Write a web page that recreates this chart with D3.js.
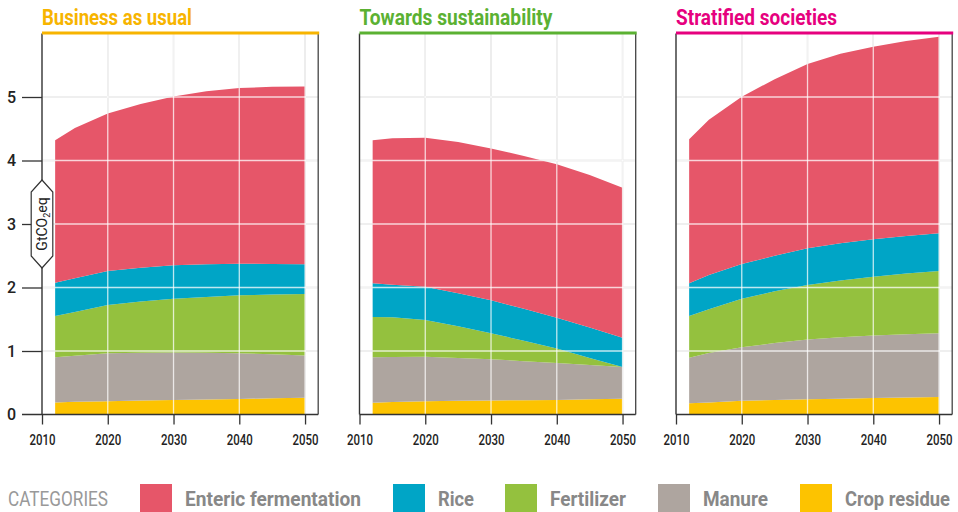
<!DOCTYPE html>
<html><head><meta charset="utf-8">
<script src="https://cdn.jsdelivr.net/npm/d3@7"></script>
<style>body{margin:0;background:#fff}svg{display:block}text{font-family:Roboto,"Noto Sans",sans-serif}</style>
</head><body>
<svg id="c" width="958" height="512"></svg>
<script>
const years = [2012, 2015, 2020, 2025, 2030, 2035, 2040, 2045, 2050];
const categories = ["Enteric fermentation", "Rice", "Fertilizer", "Manure", "Crop residue"];
const scenarios = ["Business as usual", "Towards sustainability", "Stratified societies"];
const xTicks = [2010, 2020, 2030, 2040, 2050];
const yTicks = [0, 1, 2, 3, 4, 5];

// values per category, GtCO2eq
const bauCrop    = [0.19, 0.20, 0.21, 0.22, 0.23, 0.238, 0.245, 0.255, 0.265];
const bauManure  = [0.71, 0.724, 0.755, 0.752, 0.745, 0.734, 0.72, 0.695, 0.665];
const bauFert    = [0.65, 0.691, 0.759, 0.808, 0.849, 0.88, 0.912, 0.94, 0.968];
const bauRice    = [0.526, 0.53, 0.536, 0.53, 0.526, 0.513, 0.498, 0.482, 0.47];
const bauEnteric = [2.244, 2.365, 2.48, 2.58, 2.656, 2.725, 2.765, 2.788, 2.797];

const tsCrop    = [0.186, 0.195, 0.21, 0.215, 0.22, 0.225, 0.23, 0.24, 0.25];
const tsManure  = [0.714, 0.71, 0.70, 0.675, 0.65, 0.615, 0.58, 0.54, 0.50];
const tsFert    = [0.635, 0.625, 0.58, 0.50, 0.41, 0.32, 0.23, 0.11, 0.0];
const tsRice    = [0.53, 0.515, 0.52, 0.52, 0.52, 0.505, 0.485, 0.48, 0.46];
const tsEnteric = [2.252, 2.305, 2.35, 2.38, 2.39, 2.405, 2.415, 2.40, 2.36];

const ssCrop    = [0.176, 0.19, 0.218, 0.23, 0.24, 0.25, 0.26, 0.268, 0.275];
const ssManure  = [0.719, 0.78, 0.842, 0.895, 0.94, 0.965, 0.986, 0.997, 1.005];
const ssFert    = [0.655, 0.686, 0.764, 0.815, 0.86, 0.895, 0.924, 0.955, 0.98];
const ssRice    = [0.515, 0.541, 0.546, 0.56, 0.577, 0.585, 0.59, 0.59, 0.593];
const ssEnteric = [2.268, 2.443, 2.635, 2.78, 2.903, 2.985, 3.03, 3.07, 3.097];

const catColors = ["#e65669", "#00a5c6", "#94c13e", "#aea59f", "#fdc300"];
const scenColors = ["#f7b400", "#5bb132", "#e6007e"];

const seriesByScenario = [
  [bauEnteric, bauRice, bauFert, bauManure, bauCrop],
  [tsEnteric, tsRice, tsFert, tsManure, tsCrop],
  [ssEnteric, ssRice, ssFert, ssManure, ssCrop]
];

const svg = d3.select("#c");
const lefts = [42, 359.5, 676];
const pw = 276.2;
const y = d3.scaleLinear().domain([0, 6]).range([414.5, 33.5]);
const stackKeys = categories.slice().reverse(); // bottom: Crop residue

scenarios.forEach((name, si) => {
  const L = lefts[si];
  const x = d3.scaleLinear().domain([2010, 2052]).range([L, L + pw]);
  const g = svg.append("g");
  const grid = g.append("g");
  grid.selectAll(".v").data(xTicks.slice(1)).join("line")
    .attr("x1", d => x(d)).attr("x2", d => x(d)).attr("y1", y(6)).attr("y2", y(0))
    .attr("stroke", "#c9c9c9").attr("stroke-width", 1.3);
  grid.selectAll(".h").data(yTicks.slice(1)).join("line")
    .attr("x1", L).attr("x2", L + pw).attr("y1", d => y(d)).attr("y2", d => y(d))
    .attr("stroke", "#cfcfcf").attr("stroke-width", 1.3);

  const rows = years.map((yr, i) => {
    const o = { year: yr };
    categories.forEach((c, ci) => o[c] = seriesByScenario[si][ci][i]);
    return o;
  });
  const stack = d3.stack().keys(stackKeys)(rows);
  const area = d3.area().x(d => x(d.data.year)).y0(d => y(d[0])).y1(d => y(d[1]));
  g.selectAll(".a").data(stack).join("path")
    .attr("d", area)
    .attr("fill", d => catColors[categories.indexOf(d.key)]);

  const grid2 = g.append("g");
  grid2.selectAll(".v").data(xTicks.slice(1)).join("line")
    .attr("x1", d => x(d)).attr("x2", d => x(d)).attr("y1", y(6)).attr("y2", y(0))
    .attr("stroke", "#fff").attr("stroke-opacity", 0.75).attr("stroke-width", 1.3);
  grid2.selectAll(".h").data(yTicks.slice(1)).join("line")
    .attr("x1", L).attr("x2", L + pw).attr("y1", d => y(d)).attr("y2", d => y(d))
    .attr("stroke", "#fff").attr("stroke-opacity", 0.75).attr("stroke-width", 1.3);

  g.append("line").attr("x1", L + pw).attr("x2", L + pw).attr("y1", y(6)).attr("y2", y(0))
    .attr("stroke", "#444").attr("stroke-width", 1.3);

  const xa = g.append("g").attr("transform", `translate(0,${y(0)})`)
    .call(d3.axisBottom(x).tickValues(xTicks).tickFormat(d3.format("d")).tickSize(10).tickPadding(11));
  xa.select(".domain").remove();
  xa.append("line").attr("x1", si === 0 ? L - 20 : L).attr("x2", L + pw).attr("stroke", "#333").attr("stroke-width", 1.4);
  xa.selectAll(".tick line").attr("stroke", "#333").attr("stroke-width", 1.3);
  xa.selectAll(".tick text").attr("font-size", 14).attr("font-weight", 500).attr("fill", "#222")
    .attr("textLength", 26).attr("lengthAdjust", "spacingAndGlyphs").attr("font-family", "Roboto");

  g.append("line").attr("x1", L).attr("x2", L).attr("y1", y(6)).attr("y2", y(0))
    .attr("stroke", "#333").attr("stroke-width", 1.4);

  if (si === 0) {
    const ya = g.append("g").attr("transform", `translate(${L},0)`)
      .call(d3.axisLeft(y).tickValues(yTicks.slice(1)).tickFormat(d3.format("d")).tickSize(20).tickPadding(6));
    ya.select(".domain").remove();
    ya.selectAll(".tick line").attr("stroke", "#333").attr("stroke-width", 1.3);
    ya.selectAll(".tick text").attr("font-size", 16).attr("font-weight", 500).attr("fill", "#222").attr("font-family", "Roboto");
    g.append("text").attr("x", L - 26).attr("y", y(0)).attr("dy", "0.32em")
      .attr("text-anchor", "end").attr("font-size", 16).attr("font-weight", 500).attr("fill", "#222").text("0");

    const cx = L, cy = 224;
    const bw = 10.8, ht = 44, hs = 32;
    g.append("path")
      .attr("d", `M${cx},${cy - ht} L${cx + bw},${cy - hs} L${cx + bw},${cy + hs} L${cx},${cy + ht} L${cx - bw},${cy + hs} L${cx - bw},${cy - hs} Z`)
      .attr("fill", "#fff").attr("stroke", "#333").attr("stroke-width", 1.2);
    const t = g.append("text").attr("transform", `translate(${cx + 0.5},${cy}) rotate(-90)`)
      .attr("text-anchor", "middle").attr("dy", "0.35em").attr("font-size", 14).attr("fill", "#222");
    t.append("tspan").text("GtCO");
    t.append("tspan").attr("font-size", 9).attr("dy", 3).text("2");
    t.append("tspan").attr("dy", -3).text("eq");
  }

  g.append("line").attr("x1", L).attr("x2", L + pw + 1).attr("y1", 33).attr("y2", 33)
    .attr("stroke", scenColors[si]).attr("stroke-width", 3.2);
  const tl = [150, 193, 161][si];
  g.append("text").attr("x", L).attr("y", 25).attr("font-size", 22).attr("font-weight", 700)
    .attr("fill", scenColors[si]).attr("textLength", tl).attr("lengthAdjust", "spacingAndGlyphs").text(name);
});

const lg = svg.append("g");
lg.append("text").attr("x", 8).attr("y", 506).attr("font-size", 20).attr("fill", "#999")
  .attr("textLength", 100).attr("lengthAdjust", "spacingAndGlyphs").text("CATEGORIES");
const swX = [140, 393, 505, 658, 800];
const txW = [176, 36, 76, 65, 105];
categories.forEach((c, i) => {
  lg.append("rect").attr("x", swX[i]).attr("y", 484).attr("width", 32).attr("height", 28).attr("fill", catColors[i]);
  lg.append("text").attr("x", swX[i] + 45).attr("y", 506).attr("font-size", 20).attr("font-weight", 700)
    .attr("fill", "#888").attr("textLength", txW[i]).attr("lengthAdjust", "spacingAndGlyphs").text(c);
});
</script>
</body></html>
